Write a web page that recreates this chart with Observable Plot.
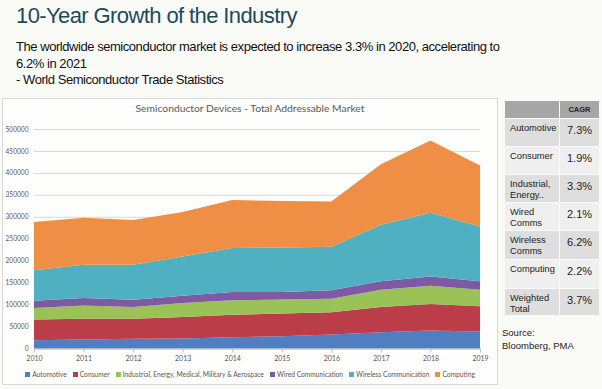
<!DOCTYPE html>
<html><head><meta charset="utf-8">
<script src="https://cdn.jsdelivr.net/npm/d3@7"></script>
<script src="https://cdn.jsdelivr.net/npm/@observablehq/plot@0.6"></script>
<style>
html,body{margin:0;padding:0}
body{width:602px;height:389px;background:#fafaf7;position:relative;overflow:hidden;font-family:"Liberation Sans",Arial,sans-serif}
#title{position:absolute;left:16px;top:5px;font-size:22px;line-height:22px;letter-spacing:-0.6px;color:#1d4a5a;white-space:nowrap}
#sub{position:absolute;left:16px;top:39px;font-size:13px;line-height:16.5px;letter-spacing:-0.45px;color:#111;white-space:nowrap}
#frame{position:absolute;left:2px;top:98px;width:496px;height:287px;border:1px solid #d9d9d9;background:#fdfdfb;box-sizing:border-box}
#ctitle{position:absolute;left:0;right:0;top:3px;text-align:center;font-family:Lato,"Open Sans",sans-serif;font-size:10.3px;color:#595959}
#plot{position:absolute;left:0;top:19px}
#legend{position:absolute;left:0;right:0;top:271px;display:flex;justify-content:center;gap:6px;font-family:Lato,"Open Sans",sans-serif;font-size:6.7px;color:#595959;white-space:nowrap}
#legend span i{display:inline-block;width:5px;height:5px;margin-right:2px;vertical-align:0px}
#cagr{position:absolute;left:504px;top:100px;border-collapse:collapse;font-family:"Liberation Sans",Arial,sans-serif}
#cagr td,#cagr th{border:1px solid #fafaf7;padding:0;vertical-align:top}
#cagr th{background:#a6a6a6;height:17px;font-size:7.5px;font-weight:bold;color:#222;vertical-align:middle}
#cagr td.n{width:55px;font-size:9.3px;line-height:11px;color:#222;padding:4px 0 0 5px;box-sizing:border-box}
#cagr td.v{width:40px;font-size:11px;color:#222;padding:5px 0 0 7px;box-sizing:border-box}
#source{position:absolute;left:502px;top:326px;font-size:9.5px;line-height:13px;color:#222}
</style></head><body>
<div id="title">10-Year Growth of the Industry</div>
<div id="sub">The worldwide semiconductor market is expected to increase 3.3% in 2020, accelerating to<br>6.2% in 2021<br>- World Semiconductor Trade Statistics</div>
<div id="frame"><div id="ctitle">Semiconductor Devices - Total Addressable Market</div><div id="plot"></div><div id="legend"></div></div>
<table id="cagr"></table>
<div id="source">Source:<br>Bloomberg, PMA</div>
<script>
const years = [2010, 2011, 2012, 2013, 2014, 2015, 2016, 2017, 2018, 2019];
const automotive = [19000, 20500, 22000, 22700, 25700, 28000, 31800, 37000, 40900, 38600];
const consumer = [47000, 47500, 46000, 49300, 51300, 51500, 50700, 57700, 60600, 57400];
const industrial = [26400, 29700, 26700, 31800, 32800, 31900, 31100, 39300, 41500, 38000];
const wired = [16600, 17300, 16300, 16200, 19000, 17600, 18900, 19000, 21000, 19000];
const wireless = [69000, 75900, 80000, 89800, 100000, 101000, 99500, 128800, 145000, 125000];
const computing = [110000, 107000, 101500, 101000, 109200, 106000, 103000, 138000, 165000, 138600];
const seriesNames = ["Automotive", "Consumer", "Industrial, Energy, Medical, Military & Aerospace", "Wired Communication", "Wireless Communication", "Computing"];
const seriesColors = ["#4f7fc0", "#bb3d4a", "#9bc257", "#7f5aa2", "#4fb0c2", "#ee8f45"];
const yTicks = [0, 50000, 100000, 150000, 200000, 250000, 300000, 350000, 400000, 450000, 500000];
const cagrLabels = ["Automotive", "Consumer", "Industrial, Energy..", "Wired Comms", "Wireless Comms", "Computing", "Weighted Total"];
const cagrValues = ["7.3%", "1.9%", "3.3%", "2.1%", "6.2%", "2.2%", "3.7%"];

const seriesValues = [automotive, consumer, industrial, wired, wireless, computing];
const data = [];
seriesNames.forEach((s, i) => years.forEach((y, j) => data.push({series: s, year: y, value: seriesValues[i][j]})));

const chart = Plot.plot({
  width: 495, height: 248,
  marginLeft: 31, marginRight: 17, marginTop: 11, marginBottom: 17,
  style: {background: "transparent", fontFamily: "Lato, 'Open Sans', sans-serif", fontSize: "7px", color: "#595959", overflow: "visible"},
  x: {domain: [2010, 2019], ticks: years, tickFormat: d => String(d), label: null},
  y: {domain: [0, 500000], ticks: yTicks, tickFormat: d => String(d), label: null},
  color: {domain: seriesNames, range: seriesColors},
  marks: [
    Plot.gridY(yTicks, {stroke: "#d9d9d9", strokeOpacity: 1}),
    Plot.areaY(data, {x: "year", y: "value", z: "series", fill: "series", fillOpacity: 1, order: seriesNames}),
    Plot.ruleY([0], {stroke: "#bfbfbf"}),
    Plot.axisX({ticks: years, tickFormat: d => String(d), tickSize: 4, tickPadding: 3, stroke: "#bfbfbf", color: "#595959", fontSize: 7, label: null}),
    Plot.axisY({ticks: yTicks, tickFormat: d => String(d), tickSize: 0, tickPadding: 6, color: "#595959", fontSize: 6.6, label: null})
  ]
});
document.getElementById("plot").appendChild(chart);

const legend = document.getElementById("legend");
seriesNames.forEach((s, i) => {
  const sp = document.createElement("span");
  sp.innerHTML = `<i style="background:${seriesColors[i]}"></i>${s.replace(/&/g, "&amp;")}`;
  legend.appendChild(sp);
});

const tbl = document.getElementById("cagr");
const heights = [28, 28, 28, 28, 29, 29, 27];
let html = `<tr><th style="background:#a6a6a6"></th><th>CAGR</th></tr>`;
cagrLabels.forEach((l, i) => {
  const bg = i % 2 === 0 ? "#dedede" : "#efefef";
  const lbl = l.replace(" ", "<br>");
  const txt = (l === "Automotive" || l === "Consumer" || l === "Computing") ? l : lbl;
  html += `<tr style="height:${heights[i]}px"><td class="n" style="background:${bg}">${txt}</td><td class="v" style="background:${bg}">${cagrValues[i]}</td></tr>`;
});
tbl.innerHTML = html;
</script>
</body></html>
